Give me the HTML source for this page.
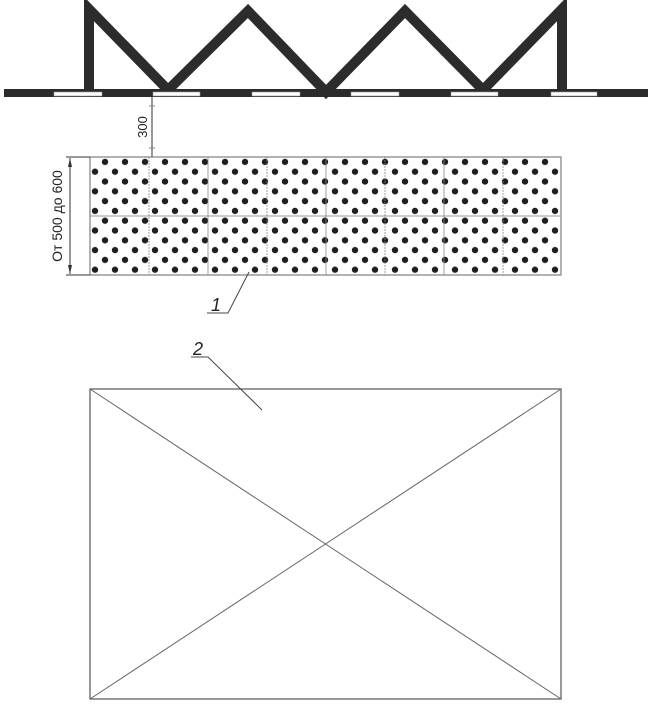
<!DOCTYPE html>
<html><head><meta charset="utf-8"><style>html,body{margin:0;padding:0;background:#fff}svg{display:block}</style></head>
<body>
<svg width="651" height="704" viewBox="0 0 651 704" xmlns="http://www.w3.org/2000/svg">
<defs>
<pattern id="dots" x="90" y="157" width="20" height="19.6" patternUnits="userSpaceOnUse">
<circle cx="15" cy="4.9" r="3.2" fill="#1e1e1e"/>
<circle cx="5" cy="14.7" r="3.2" fill="#1e1e1e"/>
</pattern>
</defs>
<polyline points="89,92 89,9 168,90 248,11 326,92 405,11 483,90 562,9 562,92" fill="none" stroke="#2c2c2c" stroke-width="10" stroke-linejoin="miter"/>
<rect x="4" y="89" width="644" height="8" fill="#2c2c2c"/>
<g fill="#fff" stroke="#999" stroke-width="0.6">
<rect x="54" y="92" width="48" height="4"/>
<rect x="153" y="92" width="47" height="4"/>
<rect x="252" y="92" width="48" height="4"/>
<rect x="351" y="92" width="48" height="4"/>
<rect x="451" y="92" width="47" height="4"/>
<rect x="551" y="92" width="46" height="4"/>
</g>
<line x1="152" y1="97" x2="152" y2="157" stroke="#333" stroke-width="1"/>
<line x1="149" y1="106" x2="155" y2="106" stroke="#777" stroke-width="0.8"/>
<line x1="149" y1="148" x2="155" y2="148" stroke="#777" stroke-width="0.8"/>
<text x="0" y="0" transform="translate(147,127) rotate(-90)" text-anchor="middle" font-family="Liberation Sans, sans-serif" font-size="13" fill="#222">300</text>
<rect x="90" y="157" width="471" height="118" fill="url(#dots)" stroke="#666" stroke-width="1"/>
<line x1="90" y1="216" x2="561" y2="216" stroke="#999" stroke-width="1"/>
<g stroke="#888" stroke-width="0.8">
<line x1="149" y1="157" x2="149" y2="275" stroke-dasharray="2,1"/>
<line x1="208" y1="157" x2="208" y2="275"/>
<line x1="267" y1="157" x2="267" y2="275" stroke-dasharray="2,1"/>
<line x1="326" y1="157" x2="326" y2="275"/>
<line x1="385" y1="157" x2="385" y2="275" stroke-dasharray="2,1"/>
<line x1="444" y1="157" x2="444" y2="275"/>
<line x1="503" y1="157" x2="503" y2="275" stroke-dasharray="2,1"/>
</g>
<line x1="66" y1="157" x2="90" y2="157" stroke="#333" stroke-width="1"/>
<line x1="66" y1="275" x2="90" y2="275" stroke="#333" stroke-width="1"/>
<line x1="70" y1="158" x2="70" y2="274" stroke="#333" stroke-width="1"/>
<polygon points="70,158 68,167 72,167" fill="#333"/>
<polygon points="70,274 68,265 72,265" fill="#333"/>
<text x="0" y="0" transform="translate(62,216) rotate(-90)" text-anchor="middle" font-family="Liberation Sans, sans-serif" font-size="14" fill="#222">От 500 до 600</text>
<polyline points="249,272 228,313 207,313" fill="none" stroke="#444" stroke-width="1"/>
<text x="211" y="311" font-family="Liberation Sans, sans-serif" font-size="18" font-style="italic" fill="#222">1</text>
<rect x="90" y="389" width="471" height="310" fill="none" stroke="#555" stroke-width="1.2"/>
<line x1="90" y1="389" x2="561" y2="699" stroke="#666" stroke-width="1"/>
<line x1="561" y1="389" x2="90" y2="699" stroke="#666" stroke-width="1"/>
<polyline points="191,357 208,357 262,410" fill="none" stroke="#444" stroke-width="1"/>
<text x="193" y="355" font-family="Liberation Sans, sans-serif" font-size="18" font-style="italic" fill="#222">2</text>
</svg>
</body></html>
